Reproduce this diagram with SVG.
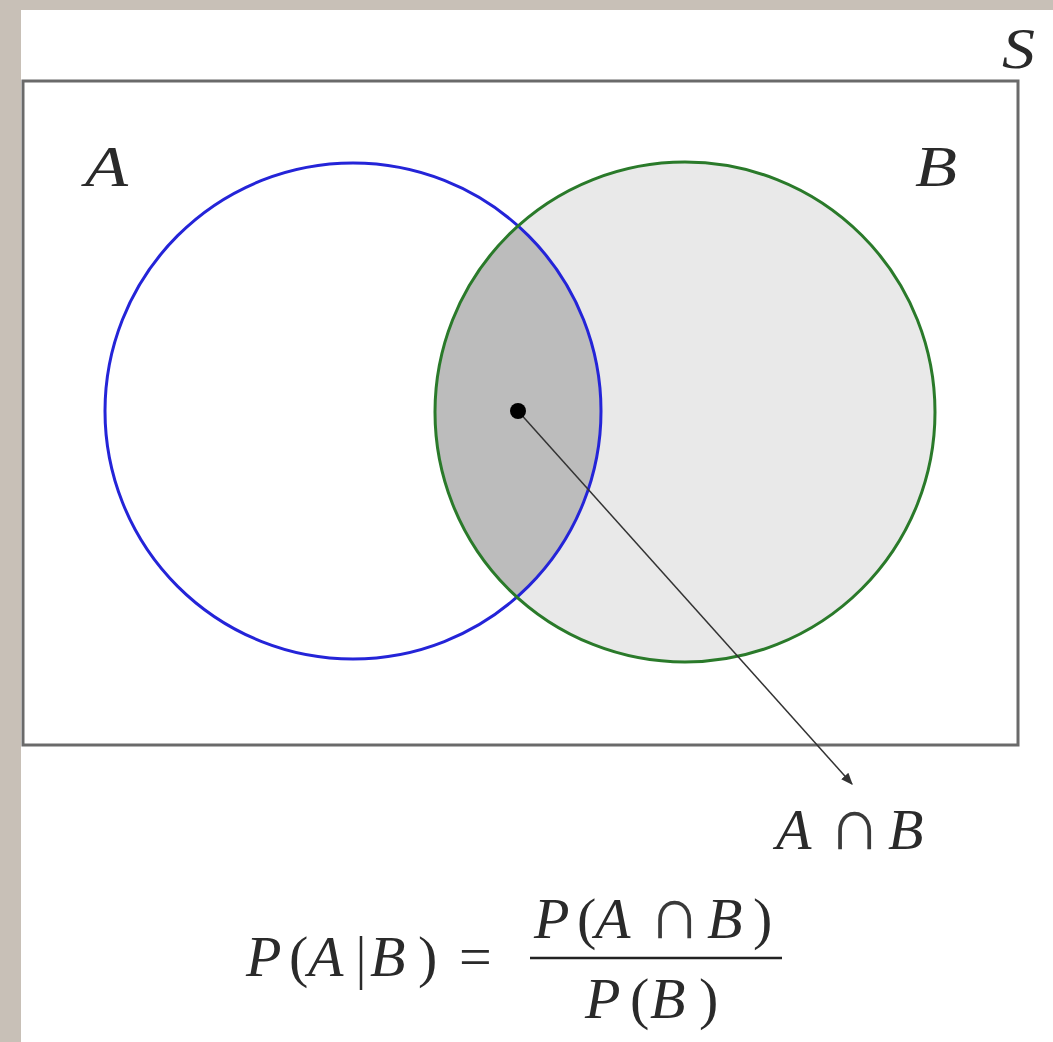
<svg xmlns="http://www.w3.org/2000/svg" width="1053" height="1042" viewBox="0 0 1053 1042">
<defs>
<style>
.m{font-family:"Liberation Serif","DejaVu Serif",serif;font-style:italic;font-size:58px;fill:#2a2a2a}
.u{font-family:"Liberation Serif","DejaVu Serif",serif;font-style:normal;font-size:58px;fill:#2a2a2a}
.c{font-family:"Liberation Serif","DejaVu Serif",serif;font-style:normal;font-size:74px;fill:#3a3a3a}
</style>
<clipPath id="clipA"><circle cx="353" cy="411" r="248"/></clipPath>
<marker id="arr" viewBox="0 0 10 10" refX="9" refY="5" markerWidth="12" markerHeight="12" markerUnits="userSpaceOnUse" orient="auto"><path d="M0,1 L10,5 L0,9 Z" fill="#333"/></marker>
</defs>
<rect x="0" y="0" width="1053" height="1042" fill="#c8c0b7"/>
<rect x="21" y="10" width="1032" height="1032" fill="#ffffff"/>
<g id="S">
<rect x="23" y="81" width="995" height="664" fill="none" stroke="#6a6a6a" stroke-width="3"/>
<text class="m" x="1002" y="68" textLength="33" lengthAdjust="spacingAndGlyphs">S</text>
</g>
<g id="B">
<circle cx="685" cy="412" r="250" fill="#e9e9e9"/>
</g>
<g id="AB">
<circle cx="685" cy="412" r="250" fill="#bcbcbc" clip-path="url(#clipA)"/>
</g>
<g id="A">
<circle cx="353" cy="411" r="248" fill="none" stroke="#2424d8" stroke-width="3"/>
<text class="m" x="85" y="186" textLength="43" lengthAdjust="spacingAndGlyphs">A</text>
</g>
<g id="Bline">
<circle cx="685" cy="412" r="250" fill="none" stroke="#2a7a2a" stroke-width="3"/>
<text class="m" x="915" y="186" textLength="42" lengthAdjust="spacingAndGlyphs">B</text>
</g>
<g id="connectors">
<line x1="518" y1="411" x2="852" y2="784" stroke="#333" stroke-width="1.5" marker-end="url(#arr)"/>
</g>
<g id="dot"><circle cx="518" cy="411" r="8" fill="#000"/></g>
<g id="label">
<text class="m" x="776" y="849">A</text><text class="c" x="828" y="849">∩</text><text class="m" x="888" y="849">B</text>
</g>
<g id="formula">
<text class="m" x="246" y="976">P</text><text class="u" x="289" y="976">(</text><text class="m" x="308" y="976">A</text>
<line x1="361" y1="936" x2="361" y2="990" stroke="#2a2a2a" stroke-width="2.5"/>
<text class="m" x="370" y="976">B</text><text class="u" x="418" y="976">)</text>
<text class="u" x="459" y="976">=</text>
<text class="m" x="534" y="938">P</text><text class="u" x="577" y="938">(</text><text class="m" x="595" y="938">A</text><text class="c" x="648" y="938">∩</text><text class="m" x="707" y="938">B</text><text class="u" x="753" y="938">)</text>
<line x1="530" y1="958" x2="782" y2="958" stroke="#222" stroke-width="2.5"/>
<text class="m" x="585" y="1018">P</text><text class="u" x="630" y="1018">(</text><text class="m" x="650" y="1018">B</text><text class="u" x="699" y="1018">)</text>
</g>
</svg>
